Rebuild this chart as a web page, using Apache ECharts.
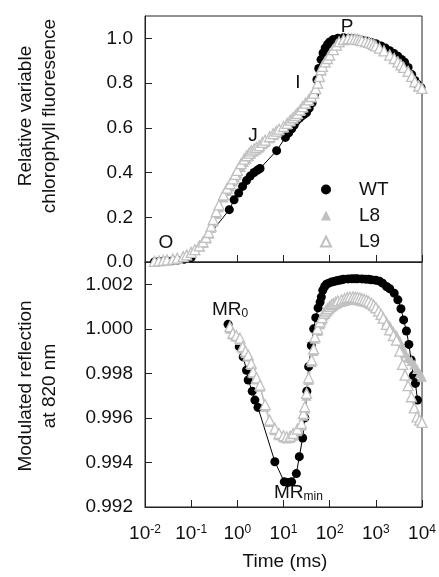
<!DOCTYPE html>
<html>
<head>
<meta charset="utf-8">
<script src="https://cdn.jsdelivr.net/npm/echarts@6/dist/echarts.min.js"></script>
<style>
    html, body { margin: 0; padding: 0; background: #fff; }
    #chart { width: 439px; height: 577px; }
</style>
</head>
<body>
<div id="chart"></div>
<script>
// top panel: relative variable chlorophyll fluorescence (time in ms)
var wtFluoTime = [0.016, 0.02, 0.025, 0.03, 0.04, 0.05, 0.07, 0.1, 0.67, 0.85,
    1.07, 1.3, 1.58, 1.9, 2.3, 2.7, 3.1, 7.1, 11, 13, 15, 17, 19, 22, 24.5, 28, 31.6, 36, 41.7, 47, 53, 58,
    65, 72, 80, 90, 100, 120, 150, 200, 250, 300, 400, 500, 650, 800, 1000, 1300, 1600, 2000, 2500, 3000, 3600, 4200,
    5000, 6000, 7000, 8000, 9500];
var wtFluo = [0.0, 0.002, 0.003, 0.004, 0.006, 0.008, 0.012, 0.02,
    0.234, 0.278, 0.308, 0.338, 0.364, 0.384, 0.4, 0.41, 0.418, 0.498, 0.557, 0.578, 0.595, 0.612,
    0.63, 0.642, 0.653, 0.66, 0.668, 0.688, 0.712, 0.75, 0.815, 0.865, 0.905, 0.935, 0.957, 0.973, 0.984, 0.995, 1.0,
    1.003, 1.001, 0.999, 0.996, 0.992, 0.987, 0.982, 0.976, 0.966, 0.957, 0.945, 0.932, 0.92, 0.906, 0.893, 0.87,
    0.838, 0.812, 0.795, 0.78];

var mutFluoTime = [0.016, 0.02, 0.025, 0.03, 0.04, 0.05, 0.067, 0.08, 0.1, 0.12, 0.15, 0.18, 0.21, 0.24, 0.27, 0.3, 0.35,
    0.4, 0.5, 0.6, 0.7, 0.8, 0.9, 1.0, 1.2, 1.4, 1.6, 1.8, 2.0, 2.3, 2.6, 3.0, 3.5, 4, 5, 6, 7, 8, 10, 12, 14, 16, 18, 20,
    23, 26, 30, 35, 40, 45, 50, 55, 60, 65, 70, 80, 90, 100, 120, 140, 160, 200, 250, 300, 350, 400, 450, 500, 600, 700,
    800, 900, 1000, 1200, 1500, 2000, 2500, 3000, 3500, 4000, 5000, 6000, 7000, 8500, 10000];
var l8Fluo = [0.003, 0.005, 0.007, 0.009, 0.012, 0.016, 0.022, 0.03, 0.04, 0.052, 0.068, 0.085, 0.105, 0.126, 0.152,
    0.18, 0.215, 0.245, 0.288, 0.318, 0.338, 0.36, 0.378, 0.396, 0.425, 0.447, 0.462, 0.474, 0.484, 0.494, 0.502, 0.512,
    0.526, 0.537, 0.553, 0.567, 0.578, 0.588, 0.6, 0.615, 0.628, 0.64, 0.65, 0.66, 0.675, 0.69, 0.705, 0.72, 0.736,
    0.752, 0.772, 0.798, 0.826, 0.855, 0.872, 0.893, 0.908, 0.922, 0.948, 0.968, 0.983, 0.994, 0.999, 0.998, 0.996,
    0.994, 0.992, 0.989, 0.985, 0.981, 0.977, 0.972, 0.966, 0.957, 0.946, 0.928, 0.913, 0.899, 0.886, 0.874, 0.856,
    0.834, 0.81, 0.79, 0.778];
var l9Fluo = [0.003, 0.005, 0.007, 0.009, 0.013, 0.017, 0.024, 0.032, 0.043, 0.055, 0.072, 0.09, 0.11, 0.132, 0.16,
    0.19, 0.225, 0.255, 0.3, 0.33, 0.35, 0.372, 0.392, 0.41, 0.44, 0.46, 0.475, 0.487, 0.497, 0.505, 0.512, 0.52,
    0.535, 0.545, 0.56, 0.574, 0.585, 0.594, 0.606, 0.62, 0.634, 0.645, 0.655, 0.665, 0.68, 0.695, 0.71, 0.725, 0.74,
    0.755, 0.775, 0.8, 0.83, 0.86, 0.875, 0.895, 0.91, 0.925, 0.95, 0.97, 0.985, 0.995, 1.0, 0.999, 0.997, 0.995,
    0.993, 0.99, 0.986, 0.982, 0.978, 0.972, 0.966, 0.956, 0.944, 0.925, 0.91, 0.895, 0.882, 0.87, 0.852, 0.83,
    0.806, 0.787, 0.776];

// bottom panel: modulated reflection at 820 nm
var wtMrTime = [0.63, 0.89, 1.1, 1.34, 1.58, 1.72, 2.1, 2.4, 2.8, 6.5, 10.4, 12.5, 15, 19, 22, 26, 29, 32,
    35, 40, 45, 50, 56, 62, 66, 71, 78, 85, 95, 110, 125, 140, 160, 180, 200, 250, 300, 350, 400, 500, 600, 700, 800,
    1000, 1200, 1400, 1700, 2000, 2500, 3000, 3500, 4000, 4600, 5200, 5800, 6500, 7200, 8000];
var wtMr = [1.0002, 0.99964, 0.9992, 0.99874, 0.99814, 0.9977, 0.9972, 0.9968, 0.99647, 0.99403,
    0.99313, 0.9931, 0.99313, 0.9935, 0.99426, 0.9951, 0.996, 0.9972, 0.9983, 0.99925, 1.0, 1.0005, 1.00094, 1.0012,
    1.00143, 1.00173, 1.0019, 1.002, 1.00205, 1.0021, 1.00213, 1.00216, 1.00218, 1.0022, 1.00222, 1.00224, 1.00225,
    1.00225, 1.00225, 1.00224, 1.00223, 1.00222, 1.0022, 1.00218, 1.00214, 1.00205, 1.0019, 1.0018, 1.0016, 1.0013,
    1.0009, 1.0004, 0.9999, 0.9993, 0.9986, 0.9979, 0.99755, 0.9968];

var mutMrTime = [0.69, 0.8, 0.95, 1.14, 1.3, 1.5, 1.72, 2.0, 2.2, 2.6, 3.1, 4, 5, 6.5, 8, 10, 11.7, 14, 16.2, 20, 24.5,
    27, 29, 31.6, 35, 40.7, 45, 48, 55, 61.7, 68, 75, 82, 90, 100, 110, 120, 135, 150, 180, 210, 240, 275, 320, 360,
    400, 450, 500, 560, 630, 700, 800, 900, 1000, 1150, 1300, 1450, 1700, 2000, 2400, 2800, 3300, 3800, 4300, 5000,
    5900, 6800, 7800, 8900, 10000];
var l8Mr = [1.0, 0.99975, 0.99965, 0.9995, 0.99912, 0.9989, 0.99875, 0.99838, 0.998, 0.99772, 0.9974, 0.9965, 0.99582,
    0.99545, 0.99522, 0.99512, 0.99508, 0.9951, 0.9952, 0.9954, 0.99565, 0.9961, 0.9964, 0.997, 0.9977, 0.9985, 0.999,
    0.99955, 0.9999, 1.0002, 1.0004, 1.0006, 1.0007, 1.0008, 1.0009, 1.00098, 1.00104, 1.0011, 1.00115, 1.0012,
    1.00125, 1.00128, 1.0013, 1.0013, 1.0013, 1.00128, 1.00126, 1.00124, 1.00121, 1.00118, 1.00114, 1.00108, 1.001,
    1.00092, 1.0008, 1.00068, 1.00055, 1.00035, 1.00015, 0.9999, 0.99972, 0.99945, 0.99915, 0.9989, 0.9987, 0.99855,
    0.9984, 0.9982, 0.998, 0.99785];
var l9Mr = [1.0001, 0.9998, 0.9997, 0.99958, 0.9992, 0.999, 0.99882, 0.99845, 0.99807, 0.9978, 0.99747, 0.9966, 0.9959,
    0.99553, 0.9953, 0.9952, 0.99515, 0.99518, 0.9953, 0.9955, 0.99575, 0.9962, 0.9965, 0.9971, 0.9978, 0.9986, 0.9991,
    0.99964, 1.0, 1.00031, 1.0005, 1.0007, 1.0008, 1.0009, 1.001, 1.00108, 1.00113, 1.0012, 1.00125, 1.0013, 1.00135,
    1.0014, 1.00143, 1.00143, 1.00142, 1.0014, 1.00138, 1.00135, 1.00132, 1.00128, 1.00123, 1.00115, 1.00106, 1.00095,
    1.0008, 1.00065, 1.00048, 1.0002, 0.99995, 0.9997, 0.99949, 0.999, 0.9984, 0.99792, 0.99745, 0.99695, 0.99645,
    0.99605, 0.9959, 0.9958];

var FONT = '"Liberation Sans", Arial, sans-serif';
var GRAY = '#c0c0c0';
var INK = '#222';

function pairs(t, v) {
    return t.map(function (x, i) { return [x, v[i]]; });
}

function wtSeries(x, y, t, v) {
    return {
        name: 'WT', type: 'line', xAxisIndex: x, yAxisIndex: y, data: pairs(t, v),
        symbol: 'circle', symbolSize: 9, showAllSymbol: true,
        itemStyle: { color: '#000' }, lineStyle: { color: '#000', width: 1 }
    };
}
function l8Series(x, y, t, v) {
    return {
        name: 'L8', type: 'line', xAxisIndex: x, yAxisIndex: y, data: pairs(t, v),
        symbol: 'triangle', symbolSize: 10, showAllSymbol: true,
        itemStyle: { color: GRAY }, lineStyle: { color: GRAY, width: 1.2 }
    };
}
function l9Series(x, y, t, v) {
    return {
        name: 'L9', type: 'line', xAxisIndex: x, yAxisIndex: y, data: pairs(t, v),
        symbol: 'triangle', symbolSize: 10, showAllSymbol: true,
        itemStyle: { color: '#fff', borderColor: GRAY, borderWidth: 1.3 },
        lineStyle: { color: GRAY, width: 1.2 }
    };
}

function timeAxis(idx, labels) {
    return {
        type: 'log', logBase: 10, gridIndex: idx, min: 0.01, max: 10000, splitNumber: 6,
        axisLine: { lineStyle: { color: INK } },
        axisTick: { inside: true, length: 7, lineStyle: { color: INK } },
        minorTick: { show: false },
        splitLine: { show: false },
        axisLabel: {
            show: labels, margin: 17, fontFamily: FONT, color: '#111',
            formatter: function (v) {
                return '{b|10}{s|' + Math.round(Math.log10(v)) + '}';
            },
            rich: {
                b: { fontSize: 19, lineHeight: 24, verticalAlign: 'top', fontFamily: FONT, color: '#111' },
                s: { fontSize: 12, lineHeight: 12, verticalAlign: 'top', fontFamily: FONT, color: '#111' }
            }
        }
    };
}

function valueAxis(idx, min, max, step, digits) {
    return {
        type: 'value', gridIndex: idx, min: min, max: max, interval: step,
        axisLine: { show: true, lineStyle: { color: INK } },
        axisTick: { show: true, inside: true, length: 7, lineStyle: { color: INK } },
        splitLine: { show: false },
        axisLabel: {
            fontSize: 19, fontFamily: FONT, color: '#111', margin: 12, showMaxLabel: false,
            formatter: function (v) { return v.toFixed(digits); }
        }
    };
}

function label(text, x, y) {
    return {
        type: 'text', x: x, y: y,
        style: { text: text, align: 'center', verticalAlign: 'middle', fontSize: 19, fontFamily: FONT, fill: '#111' }
    };
}
// text with a subscript, e.g. MR0
function subLabel(main, sub, x, y) {
    return {
        type: 'text', x: x, y: y,
        style: {
            text: '{a|' + main + '}{b|' + sub + '}', align: 'left', verticalAlign: 'top',
            rich: {
                a: { fontSize: 19, verticalAlign: 'bottom', padding: [0, 0, 1, 0], fontFamily: FONT, fill: '#111' },
                b: { fontSize: 12, verticalAlign: 'bottom', fontFamily: FONT, fill: '#111' }
            }
        }
    };
}
function yTitle(text, x, y) {
    return {
        type: 'text', x: x, y: y, rotation: Math.PI / 2,
        style: { text: text, align: 'center', verticalAlign: 'middle', fontSize: 19, lineHeight: 24, fontFamily: FONT, fill: '#111' }
    };
}

var chart = echarts.init(document.getElementById('chart'));
chart.setOption({
    animation: false,
    backgroundColor: '#fff',
    grid: [
        { left: 145, top: 16, width: 277, height: 246, show: true, borderColor: INK, borderWidth: 1 },
        { left: 145, top: 262, width: 277, height: 245, show: true, borderColor: INK, borderWidth: 1 }
    ],
    xAxis: [timeAxis(0, false), timeAxis(1, true)],
    yAxis: [valueAxis(0, 0, 1.1, 0.2, 1), valueAxis(1, 0.992, 1.003, 0.002, 3)],
    legend: {
        data: [{ name: 'WT', icon: 'circle' }, { name: 'L8', icon: 'triangle' }, { name: 'L9', icon: 'triangle' }],
        orient: 'vertical', left: 315, top: 175, itemWidth: 10, itemHeight: 10, itemGap: 7,
        selectedMode: false,
        textStyle: { fontSize: 19, fontFamily: FONT, color: '#111', padding: [0, 0, 0, 23] }
    },
    graphic: [
        yTitle('Relative variable\nchlorophyll fluoresence', 38, 116),
        yTitle('Modulated reflection\nat 820 nm', 38, 386),
        label('Time (ms)', 285, 562),
        label('O', 166, 243),
        label('J', 253, 136),
        label('I', 298, 83),
        label('P', 347, 27),
        subLabel('MR', '0', 212, 300),
        subLabel('MR', 'min', 274, 483)
    ],
    series: [
        wtSeries(0, 0, wtFluoTime, wtFluo),
        l8Series(0, 0, mutFluoTime, l8Fluo),
        l9Series(0, 0, mutFluoTime, l9Fluo),
        wtSeries(1, 1, wtMrTime, wtMr),
        l8Series(1, 1, mutMrTime, l8Mr),
        l9Series(1, 1, mutMrTime, l9Mr)
    ]
});
</script>
</body>
</html>
